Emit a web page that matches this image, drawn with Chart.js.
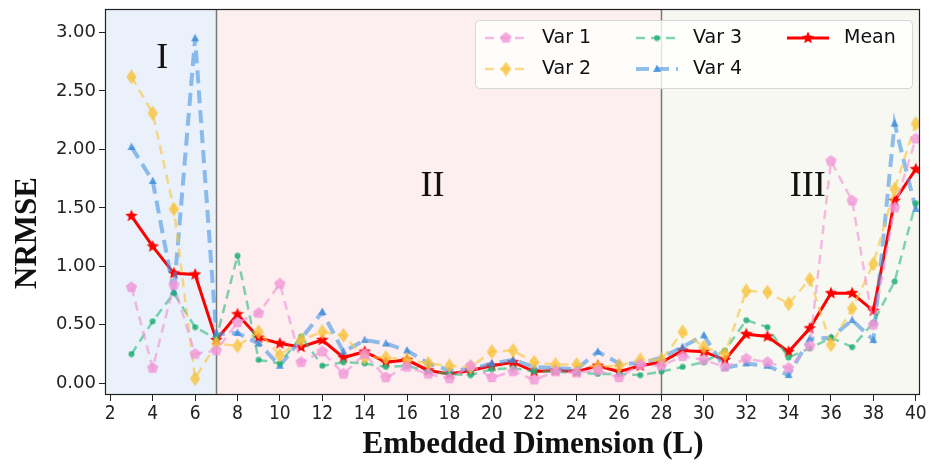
<!DOCTYPE html>
<html>
<head>
<meta charset="utf-8">
<script src="https://cdn.jsdelivr.net/npm/chart.js@4/dist/chart.umd.min.js"></script>
<style>
  html, body { margin: 0; padding: 0; background: #fff; }
  #wrap { width: 934px; height: 464px; position: relative; }
</style>
</head>
<body>
<div id="wrap"><canvas id="nrmseChart" width="934" height="464"></canvas></div>
<script>
// Embedded dimension L = 3..40
const dims = [3,4,5,6,7,8,9,10,11,12,13,14,15,16,17,18,19,20,21,22,23,24,25,26,27,28,29,30,31,32,33,34,35,36,37,38,39,40];

const var1 = [0.82,0.13,0.84,0.25,0.28,0.52,0.60,0.85,0.18,0.27,0.08,0.25,0.05,0.14,0.08,0.04,0.15,0.05,0.10,0.03,0.10,0.09,0.11,0.05,0.16,0.15,0.23,0.20,0.14,0.21,0.18,0.13,0.32,1.90,1.56,0.50,1.50,2.09];
const var2 = [2.62,2.31,1.49,0.04,0.34,0.32,0.44,0.24,0.37,0.44,0.41,0.22,0.22,0.20,0.17,0.15,0.14,0.27,0.28,0.18,0.16,0.16,0.14,0.15,0.20,0.20,0.44,0.31,0.25,0.79,0.78,0.68,0.89,0.33,0.64,1.02,1.66,2.22];
const var3 = [0.25,0.53,0.77,0.48,0.38,1.09,0.20,0.17,0.40,0.15,0.18,0.17,0.14,0.15,0.10,0.08,0.07,0.12,0.13,0.10,0.10,0.09,0.08,0.08,0.07,0.10,0.14,0.18,0.28,0.54,0.48,0.22,0.30,0.39,0.31,0.52,0.87,1.54];
const var4 = [2.02,1.73,0.78,2.95,0.42,0.43,0.34,0.15,0.38,0.61,0.27,0.37,0.34,0.28,0.17,0.11,0.12,0.17,0.20,0.14,0.13,0.12,0.27,0.17,0.17,0.22,0.31,0.41,0.13,0.17,0.15,0.07,0.38,0.39,0.54,0.37,2.22,1.49];
const meanVals = [1.43,1.17,0.94,0.93,0.37,0.59,0.39,0.34,0.31,0.37,0.22,0.27,0.18,0.20,0.11,0.08,0.11,0.15,0.18,0.10,0.11,0.10,0.15,0.10,0.15,0.18,0.28,0.27,0.20,0.42,0.40,0.27,0.47,0.77,0.77,0.62,1.56,1.83];

const xTicks = [2,4,6,8,10,12,14,16,18,20,22,24,26,28,30,32,34,36,38,40];
const yTicks = [0,0.5,1,1.5,2,2.5,3];
const regionBreaks = [7, 28];
const regionNames = ['I', 'II', 'III'];
const regionLabelX = [4.45, 17.2, 34.9];
const regionLabelY = [2.78, 1.68, 1.68];
const regionColors = ['#eaf1fa', '#fdeef0', '#f8f8f2'];
const xTitle = 'Embedded Dimension (L)';
const yTitle = 'NRMSE';

// marker images
function marker(shape, size, color) {
  const c = document.createElement('canvas');
  c.width = size; c.height = size;
  const g = c.getContext('2d');
  const r = size / 2, cx = r, cy = r;
  g.fillStyle = color;
  g.beginPath();
  if (shape === 'pentagon' || shape === 'star') {
    const n = shape === 'star' ? 10 : 5;
    for (let i = 0; i < n; i++) {
      const a = -Math.PI / 2 + i * 2 * Math.PI / n;
      const rr = (shape === 'star' && i % 2) ? r * 0.42 : r - 0.5;
      g.lineTo(cx + rr * Math.cos(a), cy + rr * Math.sin(a));
    }
  } else if (shape === 'diamond') {
    g.moveTo(cx, 0); g.lineTo(cx + r * 0.7, cy); g.lineTo(cx, size); g.lineTo(cx - r * 0.7, cy);
  } else if (shape === 'circle') {
    g.arc(cx, cy, r - 0.5, 0, Math.PI * 2);
  } else if (shape === 'tri') {
    g.moveTo(cx, 0.5); g.lineTo(size - 1, size - 2); g.lineTo(1, size - 2);
  }
  g.closePath();
  g.fill();
  return c;
}

const pinkLine = 'rgba(240,150,215,0.65)';
const yellowLine = 'rgba(248,200,70,0.65)';
const greenLine = 'rgba(40,185,125,0.6)';
const blueLine = 'rgba(70,150,225,0.6)';

const mk1 = marker('pentagon', 13, 'rgba(240,150,215,0.8)');
const mk2 = marker('diamond', 15, 'rgba(248,195,60,0.8)');
const mk3 = marker('circle', 7, 'rgba(30,175,115,0.85)');
const mk4 = marker('tri', 10, 'rgba(60,140,220,0.8)');
const mk5 = marker('star', 14, '#ff0000');

function pts(arr) { return dims.map((d, i) => ({ x: d, y: arr[i] })); }

const regionPlugin = {
  id: 'regions',
  beforeDatasetsDraw(chart) {
    const { ctx, chartArea: a, scales: { x, y } } = chart;
    const edges = [a.left, x.getPixelForValue(regionBreaks[0]), x.getPixelForValue(regionBreaks[1]), a.right];
    ctx.save();
    for (let i = 0; i < 3; i++) {
      ctx.fillStyle = regionColors[i];
      ctx.fillRect(edges[i], a.top, edges[i + 1] - edges[i], a.bottom - a.top);
    }
    ctx.strokeStyle = '#777';
    ctx.lineWidth = 1.5;
    regionBreaks.forEach(b => {
      const px = Math.round(x.getPixelForValue(b)) + 0.5;
      ctx.beginPath(); ctx.moveTo(px, a.top); ctx.lineTo(px, a.bottom); ctx.stroke();
    });
    ctx.fillStyle = '#111';
    ctx.font = '36px "Liberation Serif", serif';
    ctx.textAlign = 'center';
    ctx.textBaseline = 'middle';
    regionNames.forEach((t, i) => {
      ctx.fillText(t, x.getPixelForValue(regionLabelX[i]), y.getPixelForValue(regionLabelY[i]));
    });
    ctx.restore();
  },
  afterDraw(chart) {
    const { ctx, chartArea: a } = chart;
    ctx.save();
    ctx.strokeStyle = '#222';
    ctx.lineWidth = 1.2;
    ctx.strokeRect(a.left + 0.5, a.top + 0.5, a.right - a.left - 1, a.bottom - a.top - 1);

    // axis titles
    ctx.fillStyle = '#111';
    ctx.font = 'bold 31px "Liberation Serif", serif';
    ctx.textAlign = 'center';
    ctx.textBaseline = 'alphabetic';
    ctx.fillText(xTitle, 533, 453);
    ctx.save();
    ctx.translate(36, 233);
    ctx.rotate(-Math.PI / 2);
    ctx.fillText(yTitle, 0, 0);
    ctx.restore();

    // legend box, column-major like matplotlib ncol=3
    const bx = 475, by = 20, bw = 437, bh = 68;
    ctx.fillStyle = 'rgba(255,255,255,0.8)';
    ctx.strokeStyle = '#d6d6d6';
    ctx.lineWidth = 1;
    ctx.beginPath();
    ctx.roundRect(bx + 0.5, by + 0.5, bw, bh, 4);
    ctx.fill(); ctx.stroke();
    const cols = [485, 636, 787];
    const rows = [38, 69];
    const order = [[0, 1], [2, 3], [4]];
    ctx.font = '19px "DejaVu Sans", sans-serif';
    ctx.textBaseline = 'middle';
    ctx.textAlign = 'left';
    order.forEach((col, ci) => {
      col.forEach((di, ri) => {
        const ds = chart.data.datasets[di];
        const x0 = cols[ci], yy = rows[ri], x1 = x0 + 42;
        ctx.strokeStyle = ds.borderColor;
        ctx.lineWidth = ds.borderWidth;
        ctx.setLineDash(ds.borderDash || []);
        ctx.beginPath(); ctx.moveTo(x0, yy); ctx.lineTo(x1, yy); ctx.stroke();
        ctx.setLineDash([]);
        const img = ds.pointStyle;
        ctx.drawImage(img, (x0 + x1) / 2 - img.width / 2, yy - img.height / 2);
        ctx.fillStyle = '#111';
        ctx.fillText(ds.label, x0 + 57, yy);
      });
    });
    ctx.restore();
  }
};

const ctx = document.getElementById('nrmseChart').getContext('2d');

new Chart(ctx, {
  type: 'line',
  data: {
    datasets: [
      { label: 'Var 1', data: pts(var1), borderColor: pinkLine, borderWidth: 2.5, borderDash: [9, 6], pointStyle: mk1 },
      { label: 'Var 2', data: pts(var2), borderColor: yellowLine, borderWidth: 2.5, borderDash: [9, 6], pointStyle: mk2 },
      { label: 'Var 3', data: pts(var3), borderColor: greenLine, borderWidth: 2.5, borderDash: [9, 6], pointStyle: mk3 },
      { label: 'Var 4', data: pts(var4), borderColor: blueLine, borderWidth: 4, borderDash: [13, 7], pointStyle: mk4 },
      { label: 'Mean', data: pts(meanVals), borderColor: '#ff0000', borderWidth: 3, pointStyle: mk5 }
    ]
  },
  options: {
    responsive: false,
    animation: false,
    layout: { padding: { left: 0, right: 14, top: 8, bottom: 0 } },
    elements: { line: { tension: 0 }, point: { radius: 5, hoverRadius: 5 } },
    plugins: { legend: { display: false }, tooltip: { enabled: false } },
    scales: {
      x: {
        type: 'linear',
        min: 1.75,
        max: 40.2,
        afterBuildTicks(s) { s.ticks = xTicks.map(v => ({ value: v })); },
        afterFit(s) { s.height = 69; s.paddingLeft = 0; s.paddingRight = 0; },
        grid: { drawOnChartArea: false, drawTicks: true, tickLength: 6, color: '#222' },
        border: { display: false },
        ticks: {
          color: '#222',
          padding: 2,
          maxRotation: 0,
          autoSkip: false,
          font: { family: '"DejaVu Sans Condensed", "DejaVu Sans", sans-serif', size: 19 },
          callback: v => String(v)
        }
      },
      y: {
        min: -0.1,
        max: 3.2,
        afterBuildTicks(s) { s.ticks = yTicks.map(v => ({ value: v })); },
        afterFit(s) { s.width = 105; s.paddingTop = 0; s.paddingBottom = 0; },
        grid: { drawOnChartArea: false, drawTicks: true, tickLength: 6, color: '#222' },
        border: { display: false },
        ticks: {
          color: '#222',
          padding: 3,
          font: { family: '"DejaVu Sans", sans-serif', size: 18 },
          callback: v => Number(v).toFixed(2)
        }
      }
    }
  },
  plugins: [regionPlugin]
});
</script>
</body>
</html>
